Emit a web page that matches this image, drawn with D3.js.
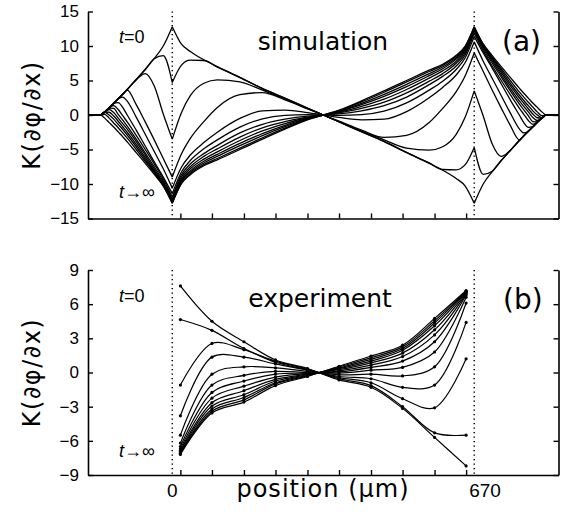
<!DOCTYPE html>
<html>
<head>
<meta charset="utf-8">
<script src="https://cdn.jsdelivr.net/npm/d3@7"></script>
<style>
body { margin: 0; background: #fff; }
</style>
</head>
<body>
<svg id="chart" width="561" height="512"></svg>
<script>
// positions (um) used for the simulation curves
var simX = [-187,-158,-150,-140,-130,-120,-110,-100,-80,-60,-40,-20,0,20,40,70,100,150,200,250,300,335,370,420,470,520,570,600,630,650,670,690,710,730,750,770,780,790,800,810,820,828,857]

// simulation, t=0 first, t->infinity last
var sim1 = [0,0,0.45,1.05,1.7,2.35,3.0,3.7,5.15,6.6,8.2,10.0,12.8,10.3,9.2,8.0,7.0,5.45,3.85,2.45,1.0,0,-1.0,-2.45,-3.85,-5.45,-7.0,-8.0,-9.2,-10.3,-12.8,-10.0,-8.2,-6.6,-5.15,-3.7,-3.0,-2.35,-1.7,-1.05,-0.45,0,0]
var sim2 = [0,0,0.45,1.05,1.7,2.35,3.0,3.7,5.15,6.6,8.15,8.6,4.7,7.2,7.95,7.9,6.95,5.42,3.83,2.43,0.98,0,-0.98,-2.43,-3.83,-5.42,-6.95,-7.9,-7.95,-7.2,-4.7,-8.6,-8.15,-6.6,-5.15,-3.7,-3.0,-2.35,-1.7,-1.05,-0.45,0,0]
var sim3 = [0,0,0.45,1.05,1.7,2.35,3.0,3.7,5.1,6.0,4.2,0.15,-3.5,0.3,2.8,4.6,5.1,4.8,3.6,2.35,0.95,0,-0.95,-2.35,-3.6,-4.8,-5.1,-4.6,-2.8,-0.3,3.5,-0.15,-4.2,-6.0,-5.1,-3.7,-3.0,-2.35,-1.7,-1.05,-0.45,0,0]
var sim4 = [0,0,0.45,1.05,1.7,2.35,3.0,3.6,1.5,-1.0,-3.6,-6.3,-9.0,-5.7,-3.4,-0.95,1.1,2.95,3.25,2.2,0.9,0,-0.9,-2.2,-3.25,-2.95,-1.1,0.95,3.4,5.7,9.0,6.3,3.6,1.0,-1.5,-3.6,-3.0,-2.35,-1.7,-1.05,-0.45,0,0]
var sim5 = [0,0,0.45,1.05,1.7,2.35,2.6,2.0,-0.3,-2.8,-5.3,-7.8,-10.6,-7.6,-5.8,-4.0,-2.5,-0.5,0.6,0.7,0.35,0,-0.35,-0.7,-0.6,0.5,2.5,4.0,5.8,7.6,10.6,7.8,5.3,2.8,0.3,-2.0,-2.6,-2.35,-1.7,-1.05,-0.45,0,0]
var sim6 = [0,0,0.45,1.05,1.7,1.8,1.1,0.0,-2.2,-4.5,-6.8,-9.0,-11.4,-8.3,-6.6,-4.9,-3.6,-1.75,-0.55,-0.05,0.05,0,-0.05,0.05,0.55,1.75,3.6,4.9,6.6,8.3,11.4,9.0,6.8,4.5,2.2,0.0,-1.1,-1.8,-1.7,-1.05,-0.45,0,0]
var sim7 = [0,0,0.45,1.05,1.35,0.8,-0.1,-1.0,-2.95,-5.0,-7.1,-9.3,-11.9,-8.7,-7.1,-5.6,-4.4,-2.6,-1.35,-0.6,-0.15,0,0.15,0.6,1.35,2.6,4.4,5.6,7.1,8.7,11.9,9.3,7.1,5.0,2.95,1.0,0.1,-0.8,-1.35,-1.05,-0.45,0,0]
var sim8 = [0,0,0.45,1.0,0.95,0.1,-0.75,-1.6,-3.5,-5.5,-7.5,-9.6,-12.2,-9.0,-7.5,-6.0,-4.9,-3.2,-1.85,-0.95,-0.3,0,0.3,0.95,1.85,3.2,4.9,6.0,7.5,9.0,12.2,9.6,7.5,5.5,3.5,1.6,0.75,-0.1,-0.95,-1.0,-0.45,0,0]
var sim9 = [0,0,0.45,0.8,0.35,-0.45,-1.25,-2.05,-3.85,-5.8,-7.8,-9.85,-12.4,-9.3,-7.8,-6.4,-5.35,-3.7,-2.3,-1.25,-0.4,0,0.4,1.25,2.3,3.7,5.35,6.4,7.8,9.3,12.4,9.85,7.8,5.8,3.85,2.05,1.25,0.45,-0.35,-0.8,-0.45,0,0]
var sim10 = [0,0,0.45,0.4,-0.15,-0.9,-1.7,-2.5,-4.25,-6.15,-8.05,-10.0,-12.55,-9.5,-8.1,-6.7,-5.7,-4.1,-2.7,-1.5,-0.5,0,0.5,1.5,2.7,4.1,5.7,6.7,8.1,9.5,12.55,10.0,8.05,6.15,4.25,2.5,1.7,0.9,0.15,-0.4,-0.45,0,0]
var sim11 = [0,0,0.4,0.0,-0.6,-1.35,-2.1,-2.9,-4.6,-6.45,-8.25,-10.1,-12.65,-9.7,-8.3,-6.95,-6.0,-4.45,-3.0,-1.7,-0.55,0,0.55,1.7,3.0,4.45,6.0,6.95,8.3,9.7,12.65,10.1,8.25,6.45,4.6,2.9,2.1,1.35,0.6,0.0,-0.4,0,0]
var sim12 = [0,0,0.1,-0.45,-1.15,-1.85,-2.6,-3.35,-5.0,-6.7,-8.4,-10.2,-12.75,-9.9,-8.5,-7.2,-6.3,-4.8,-3.3,-1.9,-0.65,0,0.65,1.9,3.3,4.8,6.3,7.2,8.5,9.9,12.75,10.2,8.4,6.7,5.0,3.35,2.6,1.85,1.15,0.45,-0.1,0,0]
var sim13 = [0,0,-0.45,-1.1,-1.75,-2.45,-3.15,-3.9,-5.45,-7.0,-8.6,-10.3,-12.8,-10.0,-8.65,-7.35,-6.5,-5.0,-3.5,-2.05,-0.7,0,0.7,2.05,3.5,5.0,6.5,7.35,8.65,10.0,12.8,10.3,8.6,7.0,5.45,3.9,3.15,2.45,1.75,1.1,0.45,0,0]

// measurement positions (um) for the experiment
var expX = [18,88,159,229,300,370,441,511,582,652]
var exp1 = [7.6,4.5,2.7,1.1,0.35,-0.65,-1.3,-3.15,-5.7,-8.2]
var exp2 = [4.65,3.7,2.1,1.0,0.3,-0.55,-1.15,-3.0,-5.3,-5.5]
var exp3 = [-1.1,2.55,2.0,0.9,0.25,-0.45,-0.9,-2.3,-3.1,1.2]
var exp4 = [-3.8,1.35,1.35,0.75,0.2,-0.35,-0.55,-1.3,-1.1,4.4]
var exp5 = [-5.5,-0.15,0.5,0.4,0.1,-0.2,-0.15,-0.3,0.5,6.1]
var exp6 = [-6.2,-1.1,-0.25,0.1,0.0,-0.05,0.2,0.45,1.8,6.6]
var exp7 = [-6.5,-1.75,-0.75,-0.15,-0.05,0.05,0.45,1.0,2.7,6.8]
var exp8 = [-6.7,-2.25,-1.2,-0.4,-0.1,0.15,0.65,1.4,3.3,6.9]
var exp9 = [-6.85,-2.65,-1.6,-0.6,-0.15,0.25,0.85,1.7,3.75,7.0]
var exp10 = [-6.95,-2.95,-1.95,-0.75,-0.2,0.33,1.0,1.95,4.1,7.05]
var exp11 = [-7.05,-3.2,-2.2,-0.9,-0.25,0.4,1.15,2.1,4.35,7.1]
var exp12 = [-7.1,-3.4,-2.4,-1.0,-0.3,0.48,1.3,2.25,4.55,7.15]
var exp13 = [-7.2,-3.55,-2.6,-1.15,-0.35,0.55,1.45,2.4,4.75,7.2]

var simTicks = [-15,-10,-5,0,5,10,15]
var expTicks = [-9,-6,-3,0,3,6,9]
var electrodes = [0, 670]
var knots = [-158, 0, 670, 828]

var simCurves = [sim1,sim2,sim3,sim4,sim5,sim6,sim7,sim8,sim9,sim10,sim11,sim12,sim13]
var expCurves = [exp1,exp2,exp3,exp4,exp5,exp6,exp7,exp8,exp9,exp10,exp11,exp12,exp13]

var svg = d3.select("#chart")
svg.append("rect").attr("width", 561).attr("height", 512).attr("fill", "#fff")

var x = d3.scaleLinear().domain([-187, 857]).range([88, 558.5])
var yA = d3.scaleLinear().domain([-15, 15]).range([218.5, 11.5])
var yB = d3.scaleLinear().domain([-9, 9]).range([475, 270])

var tickFont = "'Liberation Sans', Arial, sans-serif"
var bigFont = "'DejaVu Sans', sans-serif"

function frame(y, ticks) {
    var g = svg.append("g")
    var left = g.append("g")
        .attr("transform", "translate(" + x.range()[0] + ",0)")
        .call(d3.axisLeft(y).tickValues(ticks).tickSize(-5).tickSizeOuter(0).tickPadding(9))
    left.selectAll("text").attr("font-family", tickFont).attr("font-size", 17)
    g.append("g")
        .attr("transform", "translate(" + x.range()[1] + ",0)")
        .call(d3.axisRight(y).tickValues(ticks).tickSize(-5).tickSizeOuter(0).tickFormat(""))
    g.append("g")
        .attr("transform", "translate(0," + y.range()[0] + ")")
        .call(d3.axisBottom(x).tickValues(expX).tickSize(-5).tickSizeOuter(0).tickFormat(""))
    g.selectAll(".domain, .tick line").attr("stroke", "#000").attr("stroke-width", 1.4)
    g.selectAll(".domain").attr("stroke-width", 1.6)

    g.selectAll(".electrode")
        .data(electrodes)
        .enter().append("line")
        .attr("x1", d => x(d)).attr("x2", d => x(d))
        .attr("y1", y.range()[1]).attr("y2", y.range()[0])
        .attr("stroke", "#000")
        .attr("stroke-width", 1.5)
        .attr("stroke-dasharray", "1.3,3.2")
}

function pieces(ys) {
    var out = [], cur = []
    simX.forEach(function(xv, i) {
        cur.push([xv, ys[i]])
        if (knots.indexOf(xv) >= 0) {
            out.push(cur)
            cur = [[xv, ys[i]]]
        }
    })
    out.push(cur)
    return out
}

frame(yA, simTicks)
frame(yB, expTicks)

var simLine = d3.line()
    .x(d => x(d[0]))
    .y(d => yA(d[1]))
    .curve(d3.curveMonotoneX)

svg.append("g").selectAll("path")
    .data(simCurves)
    .enter().append("path")
    .attr("fill", "none")
    .attr("stroke", "#000")
    .attr("stroke-width", 1.3)
    .attr("d", d => pieces(d).map(p => simLine(p)).join(""))

var expLine = d3.line()
    .x((d, i) => x(expX[i]))
    .y(d => yB(d))
    .curve(d3.curveCatmullRom.alpha(0.5))

var eg = svg.append("g")
eg.selectAll("path")
    .data(expCurves)
    .enter().append("path")
    .attr("fill", "none")
    .attr("stroke", "#000")
    .attr("stroke-width", 1.2)
    .attr("d", expLine)

expCurves.forEach(function(c) {
    eg.selectAll(null)
        .data(c)
        .enter().append("circle")
        .attr("cx", (d, i) => x(expX[i]))
        .attr("cy", d => yB(d))
        .attr("r", 1.6)
        .attr("fill", "#000")
})

// text
function label(txt, px, py, size, family, anchor) {
    return svg.append("text")
        .attr("x", px).attr("y", py)
        .attr("font-size", size)
        .attr("font-family", family)
        .attr("text-anchor", anchor || "start")
        .attr("fill", "#000")
        .text(txt)
}

label("simulation", 323, 50, 25, bigFont, "middle")
label("(a)", 502, 51, 28, bigFont)
label("experiment", 320, 307, 25, bigFont, "middle")
label("(b)", 503, 309, 28, bigFont)

function timeLabel(rest, py) {
    var t = svg.append("text")
        .attr("x", 119).attr("y", py)
        .attr("font-size", 18)
        .attr("font-family", tickFont)
    t.append("tspan").attr("font-style", "italic").text("t")
    t.append("tspan").text(rest)
}
timeLabel("=0", 43)
timeLabel("\u2192\u221e", 198)
timeLabel("=0", 302)
timeLabel("\u2192\u221e", 457)

;[[115, "a"], [372.5, "b"]].forEach(function(p) {
    svg.append("text")
        .attr("transform", "translate(32," + p[0] + ") rotate(-90)")
        .attr("text-anchor", "middle")
        .attr("dominant-baseline", "central")
        .attr("font-size", 24)
        .attr("font-family", bigFont)
        .attr("letter-spacing", 1.5)
        .text("K(\u2202\u03c6/\u2202x)")
})

label("0", x(0), 497, 19, tickFont, "middle")
label("670", x(670) - 5, 497, 19, tickFont)
label("position  (\u03bcm)", 323, 497, 24, bigFont, "middle").attr("letter-spacing", 1)
</script>
